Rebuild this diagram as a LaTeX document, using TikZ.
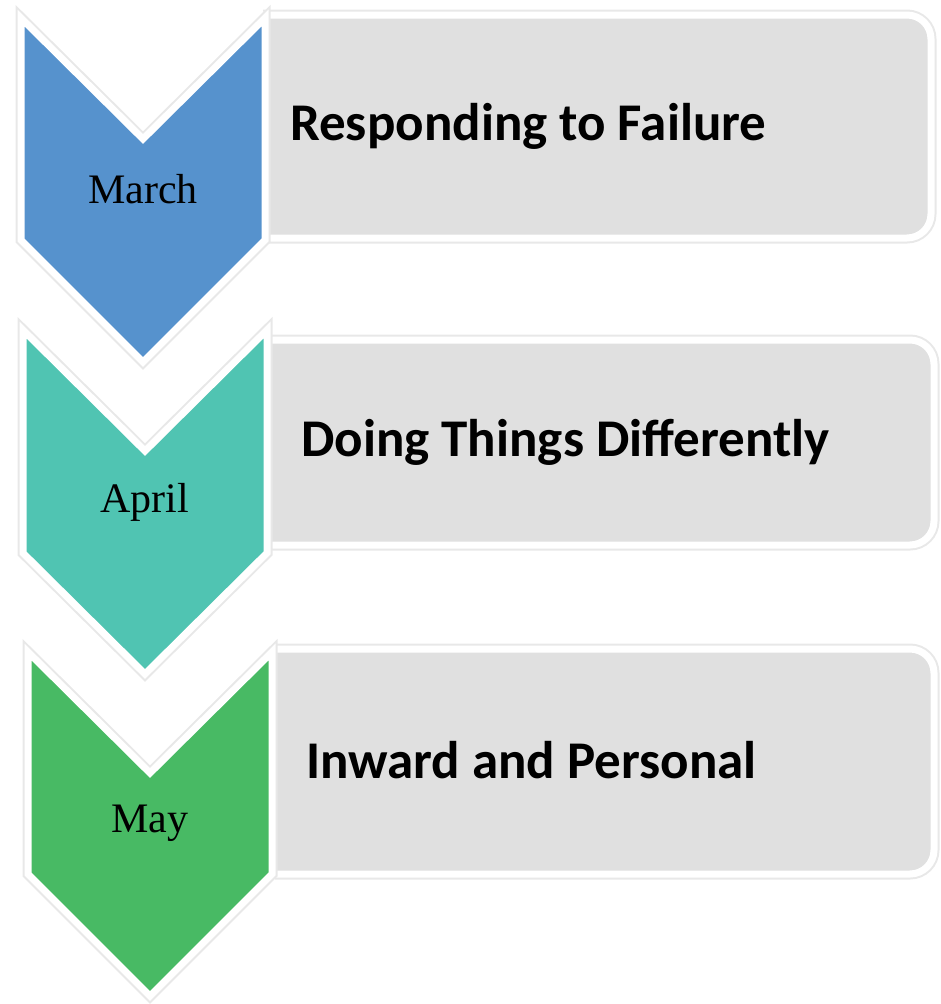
\documentclass[tikz,border=0pt]{standalone}
\usepackage{fontspec}
\setmainfont{Liberation Serif}
\newfontfamily\topicfont{Carlito}
\definecolor{marchblue}{HTML}{5692CD}
\definecolor{aprilteal}{HTML}{50C4B2}
\definecolor{maygreen}{HTML}{48BA64}
\definecolor{barfill}{HTML}{E0E0E0}

\begin{document}
\begin{tikzpicture}[x=1pt,y=-1pt,
    halo/.style={draw=black!9,line width=11pt,line join=miter},
    chevron/.style={draw=white,line width=7pt,line join=miter},
    bar/.style={draw=white,line width=7pt,fill=barfill,rounded corners=24pt},
    month/.style={font=\fontsize{42}{46}\selectfont,inner sep=0pt},
    topic/.style={font=\topicfont\bfseries\fontsize{53}{60}\selectfont,anchor=west,inner sep=0pt}]
\useasboundingbox (0,0) rectangle (940,1004);

% March
\draw[halo,rounded corners=24pt] (263,15) -- (931,15) -- (931,238) -- (263,238);
\draw[bar] (263,15) -- (931,15) -- (931,238) -- (263,238);
\draw[halo] (21,18) -- (143,139) -- (265,18) -- (265,240) -- (143,362) -- (21,240) -- cycle;
\draw[chevron,fill=marchblue] (21,18) -- (143,139) -- (265,18) -- (265,240) -- (143,362) -- (21,240) -- cycle;
\node[month] (march) at (143,189) {March};
\node[topic] (failure) at (290,126) {Responding to Failure};

% April
\draw[halo,rounded corners=24pt] (270,340) -- (934,340) -- (934,545) -- (270,545);
\draw[bar] (270,340) -- (934,340) -- (934,545) -- (270,545);
\draw[halo] (23,330) -- (145,451) -- (267,330) -- (267,553) -- (145,674) -- (23,553) -- cycle;
\draw[chevron,fill=aprilteal] (23,330) -- (145,451) -- (267,330) -- (267,553) -- (145,674) -- (23,553) -- cycle;
\node[month] (april) at (145,502) {April};
\node[topic] (differently) at (301,442) {Doing Things Differently};

% May
\draw[halo,rounded corners=24pt] (275,649) -- (934,649) -- (934,874) -- (275,874);
\draw[bar] (275,649) -- (934,649) -- (934,874) -- (275,874);
\draw[halo] (28,652) -- (150,773) -- (272,652) -- (272,874) -- (150,996) -- (28,874) -- cycle;
\draw[chevron,fill=maygreen] (28,652) -- (150,773) -- (272,652) -- (272,874) -- (150,996) -- (28,874) -- cycle;
\node[month] (may) at (150,823) {May};
\node[topic] (personal) at (306,760) {Inward and Personal};
\end{tikzpicture}
\end{document}
